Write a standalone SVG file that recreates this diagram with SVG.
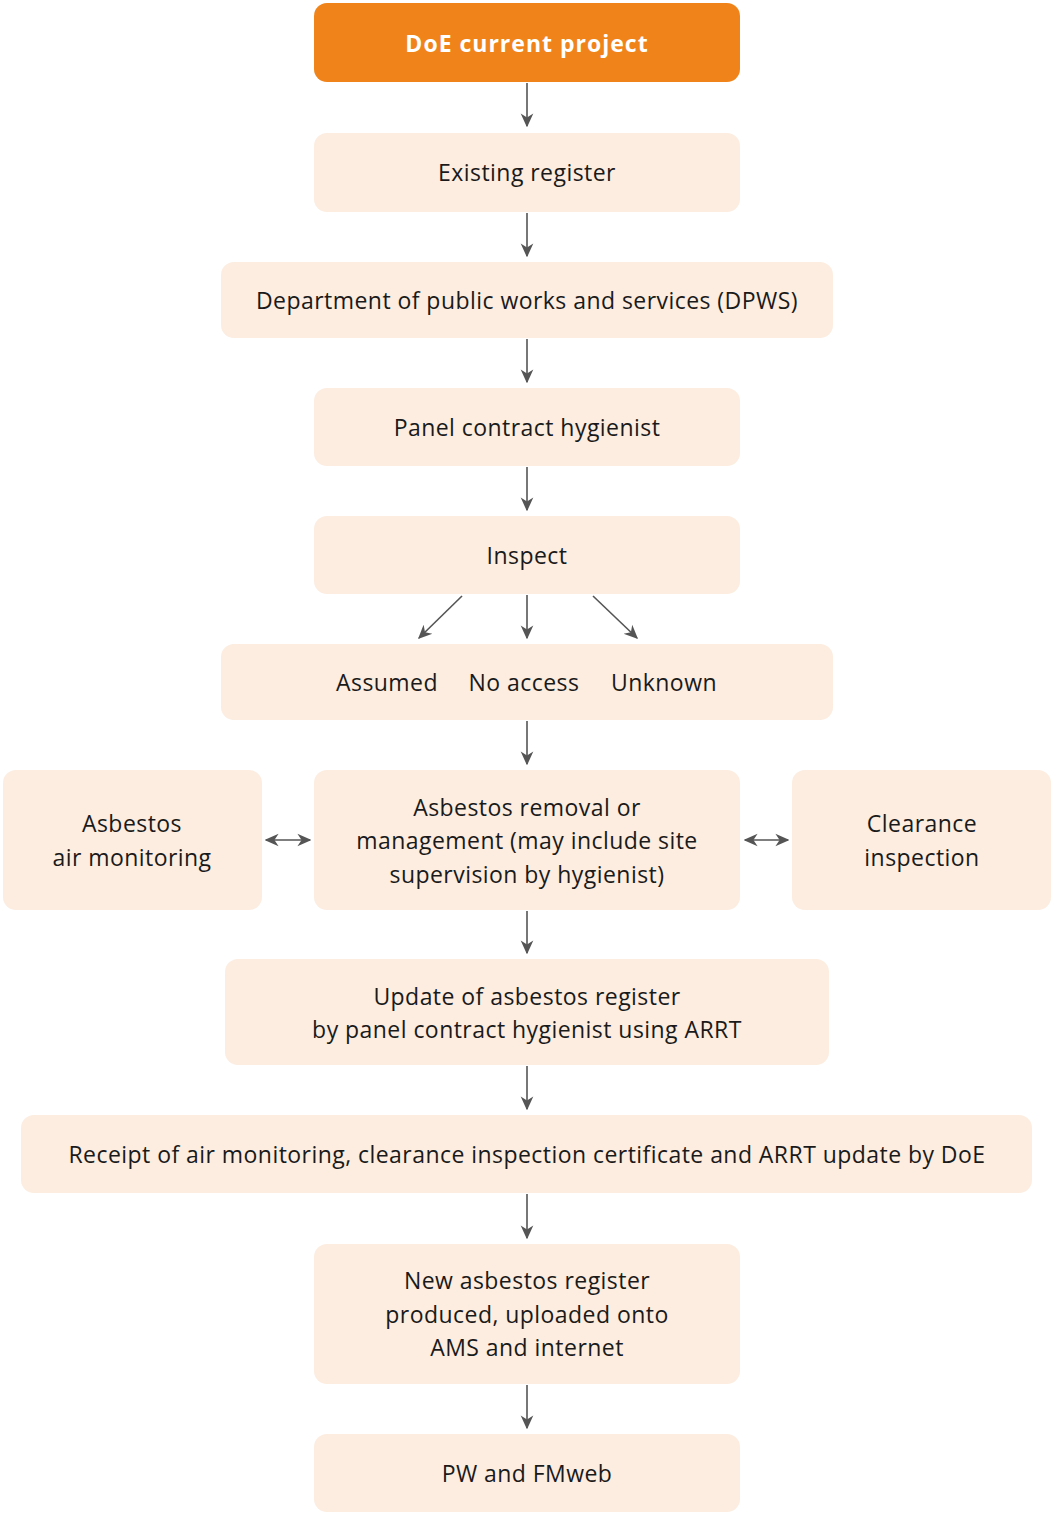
<svg xmlns="http://www.w3.org/2000/svg" width="1051" height="1513" viewBox="0 0 1051 1513">
<style>
.box{fill:#FCEDE0;}
.top{fill:#F0841A;}
text{font-family:"Open Sans","Noto Sans",sans-serif;font-size:23px;letter-spacing:0.45px;fill:#1a1a1a;text-anchor:middle;}
.w{fill:#ffffff;font-weight:bold;letter-spacing:1px;}
.c{stroke:#555555;stroke-width:1.6;fill:none;}
</style>
<defs>
<marker id="ah2" viewBox="0 0 10 10" refX="9" refY="5" markerWidth="14" markerHeight="14" markerUnits="userSpaceOnUse" orient="auto-start-reverse"><path d="M0,0.5 L10,5 L0,9.5 L3,5 Z" fill="#555555"/></marker>
</defs>
<g id="connectors">
<line class="c" x1="527" y1="83" x2="527" y2="126" marker-end="url(#ah2)"/>
<line class="c" x1="527" y1="213" x2="527" y2="256" marker-end="url(#ah2)"/>
<line class="c" x1="527" y1="339" x2="527" y2="382" marker-end="url(#ah2)"/>
<line class="c" x1="527" y1="467" x2="527" y2="510" marker-end="url(#ah2)"/>
<line class="c" x1="527" y1="595" x2="527" y2="638" marker-end="url(#ah2)"/>
<line class="c" x1="462" y1="596" x2="419" y2="638" marker-end="url(#ah2)"/>
<line class="c" x1="593" y1="596" x2="637" y2="638" marker-end="url(#ah2)"/>
<line class="c" x1="527" y1="721" x2="527" y2="764" marker-end="url(#ah2)"/>
<line class="c" x1="527" y1="911" x2="527" y2="953" marker-end="url(#ah2)"/>
<line class="c" x1="527" y1="1066" x2="527" y2="1109" marker-end="url(#ah2)"/>
<line class="c" x1="527" y1="1194" x2="527" y2="1238" marker-end="url(#ah2)"/>
<line class="c" x1="527" y1="1385" x2="527" y2="1428" marker-end="url(#ah2)"/>
<line class="c" x1="266" y1="840" x2="310" y2="840" marker-start="url(#ah2)" marker-end="url(#ah2)"/>
<line class="c" x1="745" y1="840" x2="788" y2="840" marker-start="url(#ah2)" marker-end="url(#ah2)"/>
</g>
<g id="n1"><rect class="top" x="314" y="3" width="426" height="79" rx="13"/><text class="w" x="527" y="52">DoE current project</text></g>
<g id="n2"><rect class="box" x="314" y="133" width="426" height="79" rx="13"/><text x="527" y="181">Existing register</text></g>
<g id="n3"><rect class="box" x="221" y="262" width="612" height="76" rx="13"/><text x="527" y="309">Department of public works and services (DPWS)</text></g>
<g id="n4"><rect class="box" x="314" y="388" width="426" height="78" rx="13"/><text x="527" y="436">Panel contract hygienist</text></g>
<g id="n5"><rect class="box" x="314" y="516" width="426" height="78" rx="13"/><text x="527" y="564">Inspect</text></g>
<g id="n6"><rect class="box" x="221" y="644" width="612" height="76" rx="13"/><text x="387" y="691">Assumed</text><text x="524" y="691">No access</text><text x="664" y="691">Unknown</text></g>
<g id="n7"><rect class="box" x="3" y="770" width="259" height="140" rx="13"/><text x="132" y="832">Asbestos</text><text x="132" y="866">air monitoring</text></g>
<g id="n8"><rect class="box" x="314" y="770" width="426" height="140" rx="13"/><text x="527" y="816">Asbestos removal or</text><text x="527" y="849">management (may include site</text><text x="527" y="883">supervision by hygienist)</text></g>
<g id="n9"><rect class="box" x="792" y="770" width="259" height="140" rx="13"/><text x="922" y="832">Clearance</text><text x="922" y="866">inspection</text></g>
<g id="n10"><rect class="box" x="225" y="959" width="604" height="106" rx="13"/><text x="527" y="1005">Update of asbestos register</text><text x="527" y="1038">by panel contract hygienist using ARRT</text></g>
<g id="n11"><rect class="box" x="21" y="1115" width="1011" height="78" rx="13"/><text x="527" y="1163">Receipt of air monitoring, clearance inspection certificate and ARRT update by DoE</text></g>
<g id="n12"><rect class="box" x="314" y="1244" width="426" height="140" rx="13"/><text x="527" y="1289">New asbestos register</text><text x="527" y="1323">produced, uploaded onto</text><text x="527" y="1356">AMS and internet</text></g>
<g id="n13"><rect class="box" x="314" y="1434" width="426" height="78" rx="13"/><text x="527" y="1482">PW and FMweb</text></g>
</svg>
